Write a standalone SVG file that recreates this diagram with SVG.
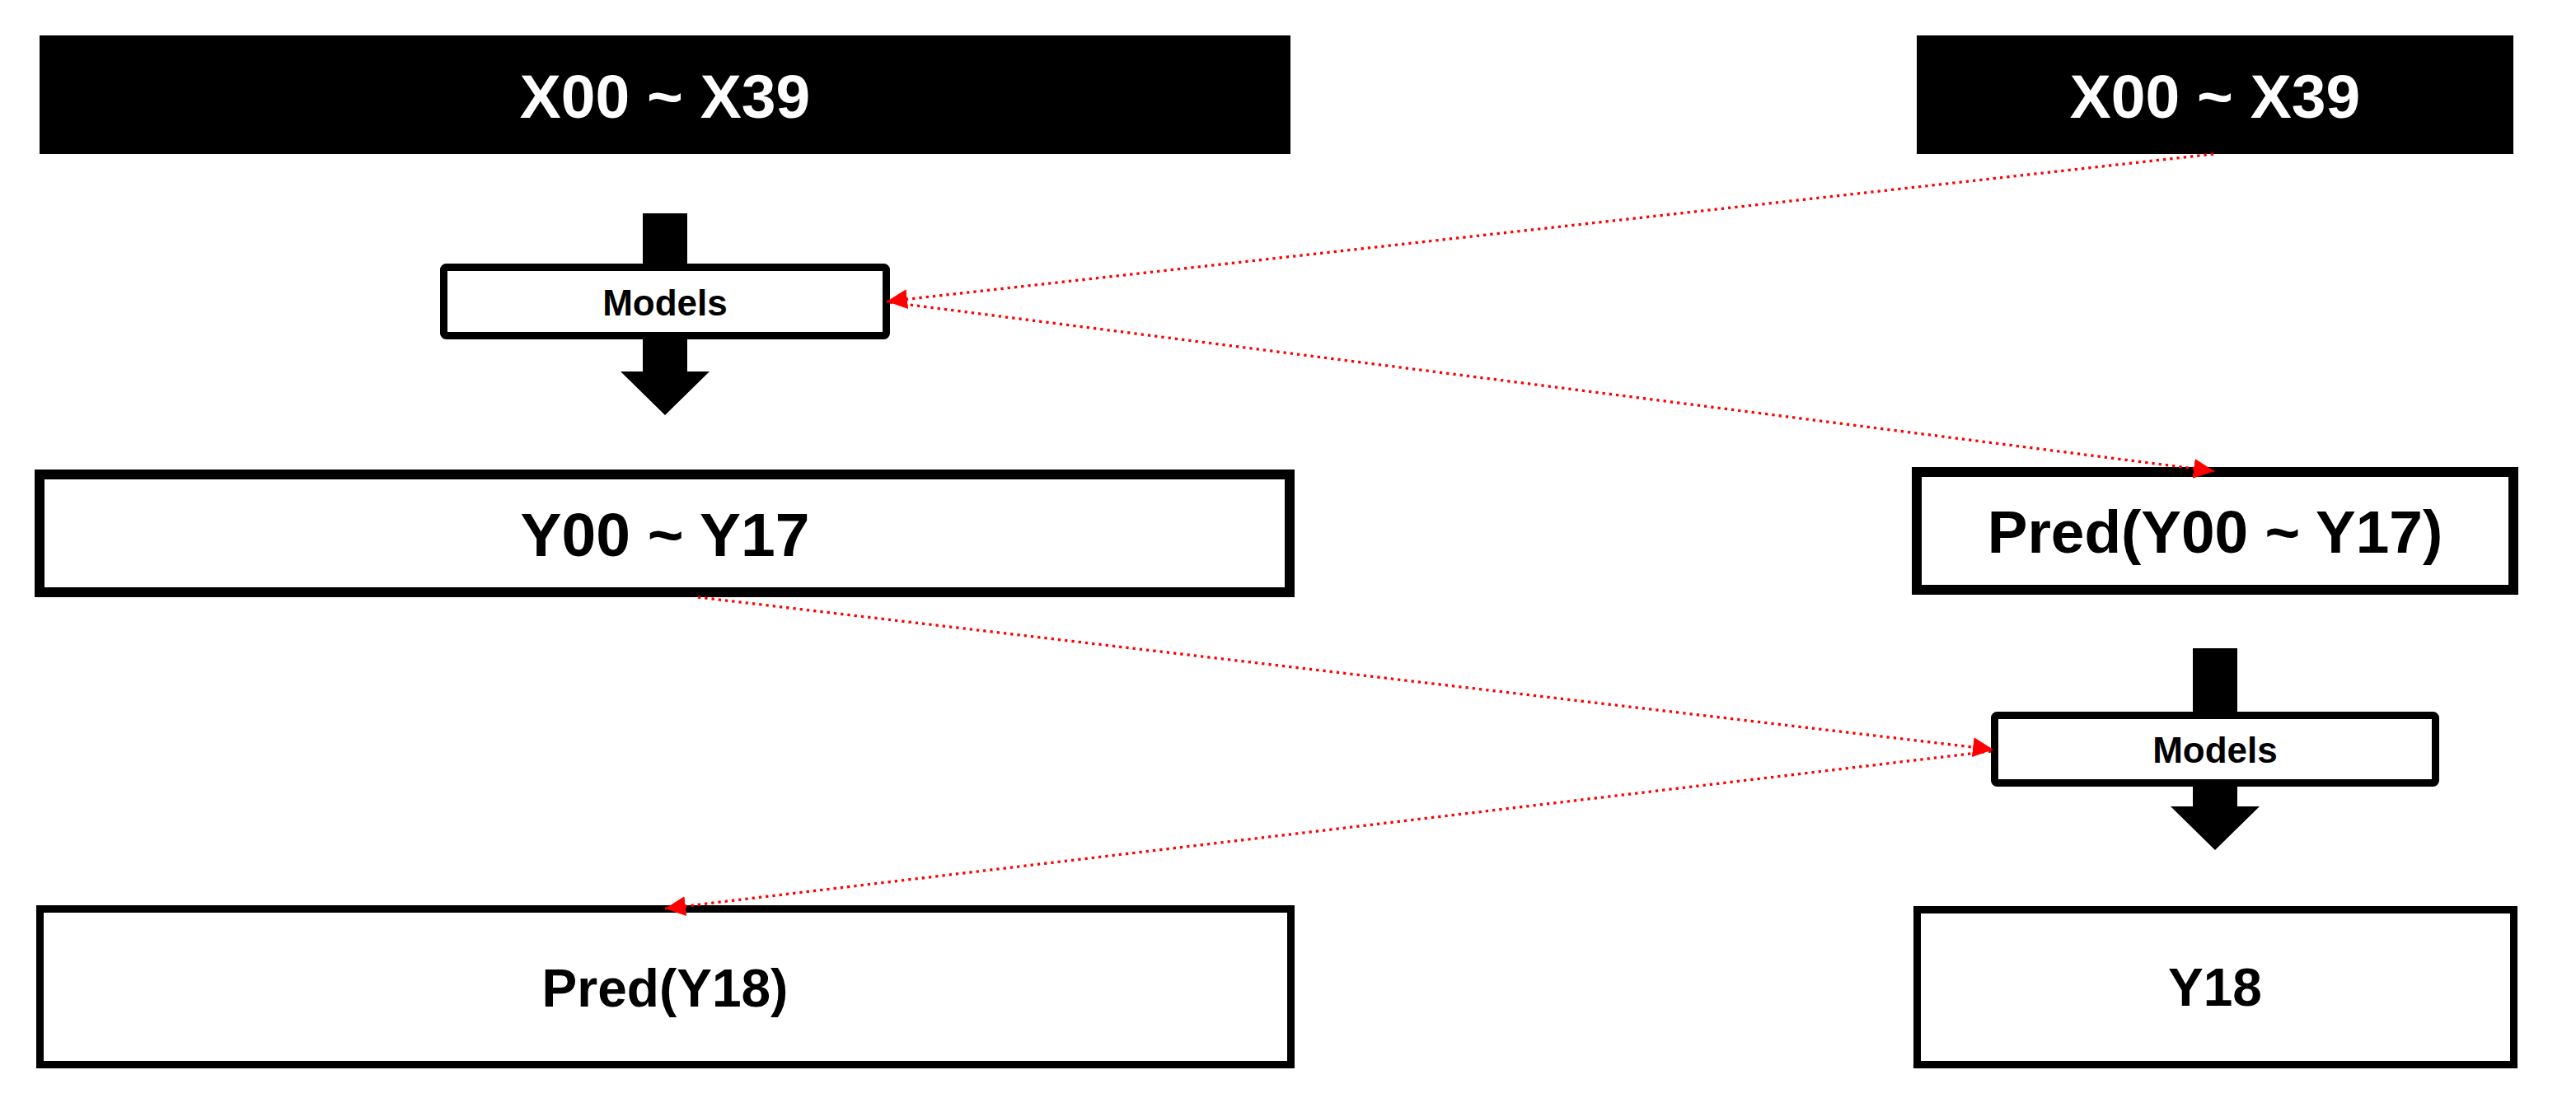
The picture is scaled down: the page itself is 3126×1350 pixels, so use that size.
<svg xmlns="http://www.w3.org/2000/svg" width="3126" height="1350" viewBox="0 0 3126 1350">
  <defs>
    <style>
      .lbl { font-family: "Liberation Sans", Arial, sans-serif; font-weight: bold; text-anchor: middle; }
      .big { font-size: 75px; }
      .mid { font-size: 64px; }
      .small { font-size: 44px; }
      .white { fill: #ffffff; }
      .dark { fill: #000000; }
      .blk { fill: #000000; }
      .box { fill: #ffffff; stroke: #000000; }
      .link { fill: none; stroke: #ff0000; stroke-width: 3.3; stroke-dasharray: 3.3 5; marker-end: url(#redArrow); }
    </style>
    <marker id="redArrow" markerUnits="userSpaceOnUse" markerWidth="26" markerHeight="26" refX="25" refY="12" orient="auto">
      <path d="M0,0 L25,12 L0,24 z" fill="#ff0000"/>
    </marker>
  </defs>
  <rect width="3126" height="1350" fill="#ffffff"/>

  <g id="flow-arrow-left">
    <rect class="blk" x="780" y="259" width="54" height="193"/>
    <polygon class="blk" points="753,451 861,451 807,504"/>
  </g>
  <g id="flow-arrow-right">
    <rect class="blk" x="2661" y="787" width="54" height="193"/>
    <polygon class="blk" points="2634,979 2742,979 2688,1032"/>
  </g>

  <g id="x-left">
    <rect class="blk" x="48" y="43" width="1518" height="144"/>
    <text class="lbl big white" x="807" y="143">X00 ~ X39</text>
  </g>
  <g id="x-right">
    <rect class="blk" x="2326" y="43" width="724" height="144"/>
    <text class="lbl big white" x="2688" y="143">X00 ~ X39</text>
  </g>
  <g id="models-left">
    <rect class="box" x="538.5" y="324.5" width="537" height="83" rx="3" stroke-width="9"/>
    <text class="lbl small dark" x="807" y="383">Models</text>
  </g>
  <g id="y-left">
    <rect class="box" x="48" y="576" width="1517" height="143" stroke-width="12"/>
    <text class="lbl big dark" x="807" y="675">Y00 ~ Y17</text>
  </g>
  <g id="pred-y-right">
    <rect class="box" x="2326" y="573" width="724" height="143" stroke-width="12"/>
    <text class="lbl dark" style="font-size:73px" x="2688" y="671">Pred(Y00 ~ Y17)</text>
  </g>
  <g id="models-right">
    <rect class="box" x="2420.5" y="868.5" width="535" height="82" rx="3" stroke-width="9"/>
    <text class="lbl small dark" x="2688" y="926">Models</text>
  </g>
  <g id="pred-y18-left">
    <rect class="box" x="48.5" y="1103.5" width="1518" height="189" stroke-width="9"/>
    <text class="lbl mid dark" x="807" y="1222">Pred(Y18)</text>
  </g>
  <g id="y18-right">
    <rect class="box" x="2326.5" y="1104.5" width="724" height="188" stroke-width="9"/>
    <text class="lbl mid dark" x="2688" y="1221">Y18</text>
  </g>

  <g id="connectors">
    <line class="link" x1="2686" y1="187" x2="1076" y2="366"/>
    <line class="link" x1="1080" y1="367" x2="2687" y2="572"/>
    <line class="link" x1="847" y1="725" x2="2419" y2="910"/>
    <line class="link" x1="2416" y1="912" x2="807" y2="1103"/>
  </g>
</svg>
